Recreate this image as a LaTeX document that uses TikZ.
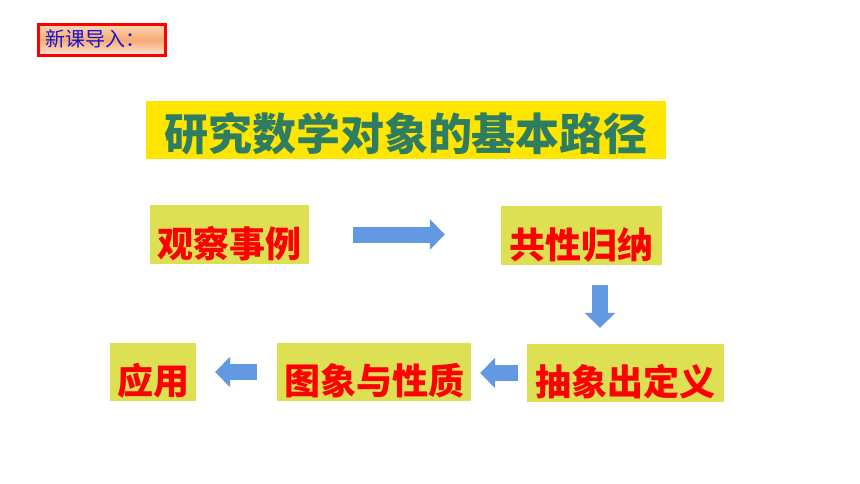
\documentclass[tikz,border=0pt]{standalone}
\usepackage{fontspec}
\newfontfamily\cjk{Noto Sans CJK SC}
\usetikzlibrary{arrows.meta}

\definecolor{titleyellow}{RGB}{255,230,0}
\definecolor{titlegreen}{RGB}{46,125,98}
\definecolor{boxyellow}{RGB}{221,224,82}
\definecolor{arrowblue}{RGB}{99,153,226}
\definecolor{introblue}{RGB}{20,20,210}
\definecolor{introtop}{RGB}{252,214,180}
\definecolor{intromid}{RGB}{247,170,115}
\definecolor{introbot}{RGB}{253,232,222}

\begin{document}
\begin{tikzpicture}[x=1pt, y=-1pt,
  stepbox/.style={fill=boxyellow, text=red, inner sep=0pt,
    minimum height=58pt, text height=45pt, text depth=0pt,
    font=\cjk\bfseries\fontsize{36}{36}\selectfont},
  flowarrow/.style={draw=arrowblue, line width=16pt,
    -{Triangle[width=30pt,length=15pt]}}]

\useasboundingbox (0,0) rectangle (860,484);

\draw (102,40)
  node[draw=red, line width=3pt, top color=introtop, bottom color=introbot,
       middle color=intromid, text=introblue, inner xsep=7pt, inner ysep=0pt,
       text width=113pt, minimum height=31pt, text height=15pt, text depth=1pt,
       align=left, font=\cjk\fontsize{20}{20}\selectfont] (intro) {新课导入：};

\draw (406,130)
  node[fill=titleyellow, text=titlegreen, inner sep=0pt,
       minimum width=520pt, minimum height=58pt, text height=42pt, text depth=0pt,
       font=\cjk\bfseries\fontsize{44}{44}\selectfont] (title) {研究数学对象的基本路径};

\draw (229.5,234.5) node[stepbox, minimum width=159pt] (obs) {观察事例};
\draw (581.5,235.5) node[stepbox, minimum width=161pt] (gx) {共性归纳};
\draw (625.5,373) node[stepbox, minimum width=197pt] (dy) {抽象出定义};
\draw (374,372) node[stepbox, minimum width=194pt] (tu) {图象与性质};
\draw (153,372) node[stepbox, minimum width=86pt] (yy) {应用};

\coordinate (dcol) at (600,0);

\draw[flowarrow, shorten <=44pt, shorten >=56pt] (obs.east) -- (obs.east -| gx.west);
\draw[flowarrow, shorten <=20pt, shorten >=16pt] (gx.south -| dcol) -- (dy.north -| dcol);
\draw[flowarrow, shorten <=9pt, shorten >=9pt] (dy.west) -- (dy.west -| tu.east);
\draw[flowarrow, shorten <=20pt, shorten >=19pt] (tu.west) -- (tu.west -| yy.east);
\end{tikzpicture}
\end{document}
